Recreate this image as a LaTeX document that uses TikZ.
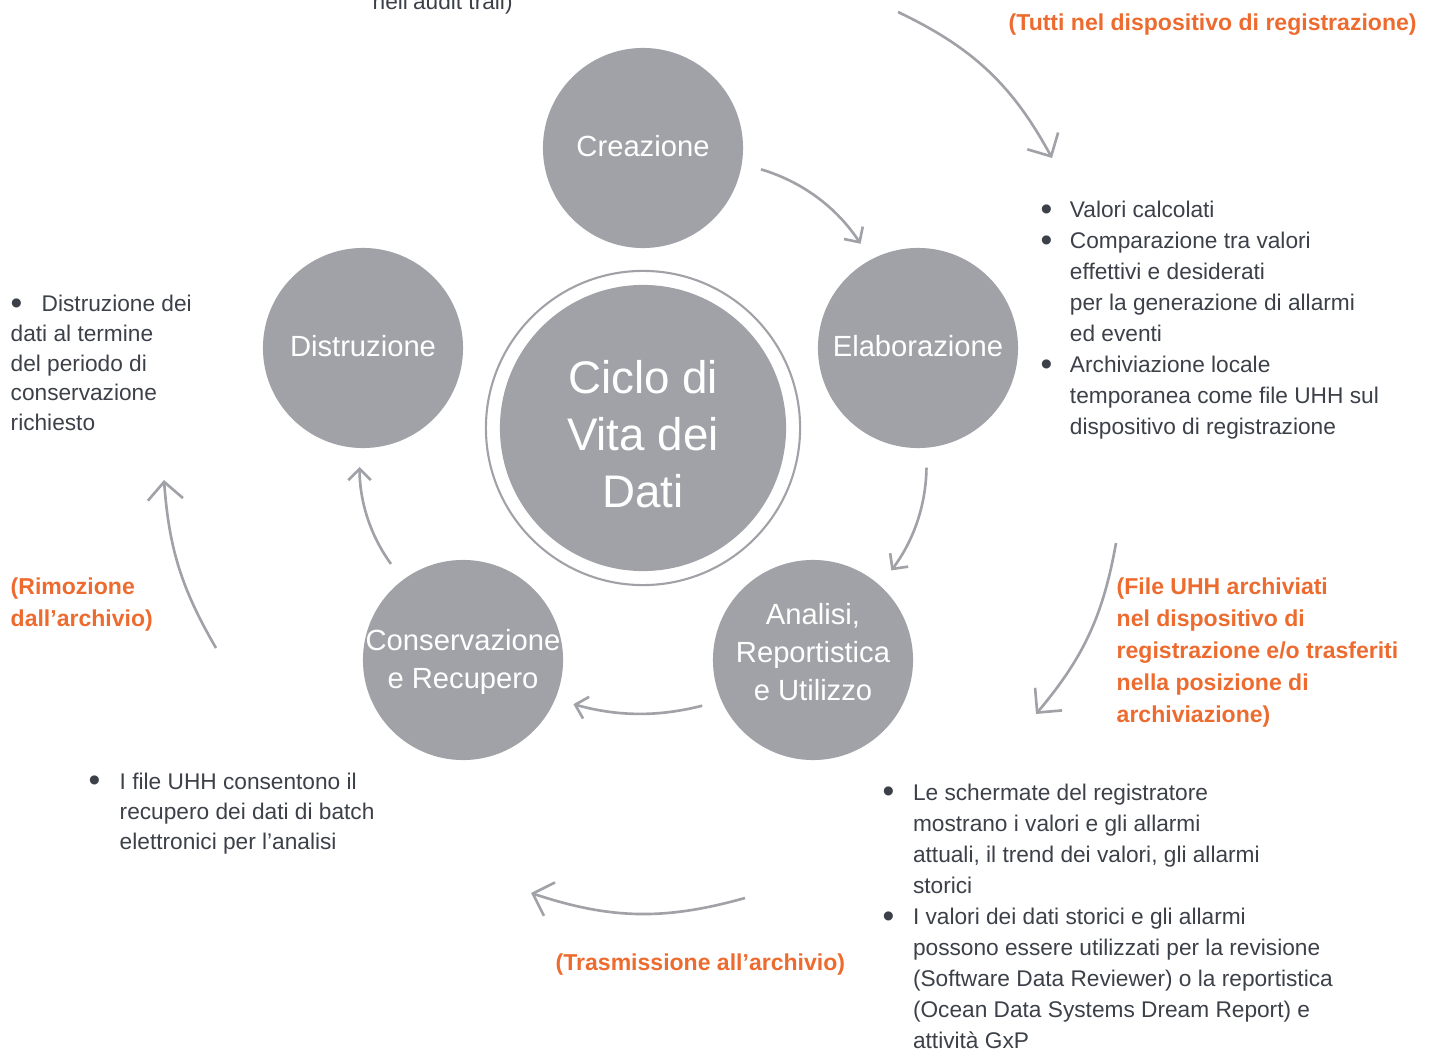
\documentclass[tikz,border=0pt]{standalone}
\usepackage{fontspec}
\setmainfont{Liberation Sans}
\usetikzlibrary{arrows.meta}
\definecolor{disc}{RGB}{161,162,167}
\definecolor{ink}{RGB}{60,64,72}
\definecolor{arancio}{RGB}{237,107,47}
\newcommand{\punto}{\raisebox{-0.75pt}{\fontsize{9.5}{9.5}\selectfont\textbullet}}
\tikzset{
fase/.style={circle,fill=disc,minimum size=2cm,inner sep=0pt,outer sep=0pt},
fasetesto/.style={inner sep=0pt,text=white,align=center,font=\fontsize{8.3}{10.8}\selectfont},
freccia/.style={draw=disc,line width=0.75pt,shorten <=0.2cm,shorten >=0.19cm,-{Straight Barb[length=3.2pt,width=6.4pt]}},
frecciona/.style={draw=disc,line width=0.75pt,-{Straight Barb[length=5pt,width=10pt]}},
testo/.style={anchor=base west,inner sep=0pt,text=ink,font=\fontsize{6.45}{8.6}\selectfont},
nota/.style={anchor=base west,inner sep=0pt,text=arancio,font=\bfseries\fontsize{6.55}{9.1}\selectfont}
}
\begin{document}
\begin{tikzpicture}[x=0.01cm,y=0.01cm]
\useasboundingbox (0,0) rectangle (1439,-1052);

\node[fase] (crea) at (643,-148) {};
\node[fase] (elab) at (918,-348) {};
\node[fase] (anal) at (813,-660) {};
\node[fase] (cons) at (463,-660) {};
\node[fase] (dist) at (363,-348) {};
\node[circle,fill=disc,minimum size=2.86cm,inner sep=0pt] (ciclo) at (643,-428) {};
\draw[disc,line width=0.6pt] (ciclo.center) circle (1.57cm);

\node[fasetesto] (creat) at ([yshift=0.02cm]crea) {Creazione};
\node[fasetesto] (elabt) at ([yshift=0.02cm]elab) {Elaborazione};
\node[fasetesto] (analt) at ([yshift=0.08cm]anal) {Analisi,\\Reportistica\\e Utilizzo};
\node[fasetesto] (const) at ([yshift=-0.02cm]cons) {Conservazione\\e Recupero};
\node[fasetesto] (distt) at ([yshift=0.02cm]dist) {Distruzione};
\node[fasetesto,font=\fontsize{13}{16.2}\selectfont] (ciclot) at (643,-434) {Ciclo di\\Vita dei\\Dati};

\draw[freccia] (crea.-9) to[bend left=20] (elab.118);
\draw[freccia] (elab.-85) to[bend left=18] (anal.48);
\draw[freccia] (anal.204) to[bend left=15] (cons.-23);
\draw[freccia] (cons.127) to[bend left=18] (dist.-92);

\coordinate (in1) at (898,-12); \coordinate (out1) at (1052,-158);
\coordinate (in2) at (1116,-543); \coordinate (out2) at (1036,-714);
\coordinate (in3) at (745,-898); \coordinate (out3) at (531,-893);
\coordinate (in4) at (216,-648); \coordinate (out4) at (164,-480);
\draw[frecciona] (in1) to[bend left=18] (out1);
\draw[frecciona] (in2) to[bend left=15] (out2);
\draw[frecciona] (in3) to[bend left=17] (out3);
\draw[frecciona] (in4) to[bend left=13] (out4);

\node[testo] (audit) at (372,-10) {nell’audit trail)};
\node[nota] (tutti) at (1008,-31) {(Tutti nel dispositivo di registrazione)};
\node[testo,font=\fontsize{6.45}{8.8}\selectfont] (elabnote) at (1040,-218) {\begin{tabular}[t]{@{}l@{\hspace{5pt}}l@{}}
\punto & Valori calcolati\\
\punto & Comparazione tra valori\\
 & effettivi e desiderati\\
 & per la generazione di allarmi\\
 & ed eventi\\
\punto & Archiviazione locale\\
 & temporanea come file UHH sul\\
 & dispositivo di registrazione
\end{tabular}};
\node[testo,font=\fontsize{6.45}{8.4}\selectfont] (distnote) at (10,-312) {\begin{tabular}[t]{@{}l@{}}
\punto\hspace{5.5pt}Distruzione dei\\
dati al termine\\
del periodo di\\
conservazione\\
richiesto
\end{tabular}};
\node[nota] (rimoz) at (10,-594) {\begin{tabular}[t]{@{}l@{}}
(Rimozione\\
dall’archivio)
\end{tabular}};
\node[nota] (archiv) at (1116,-594) {\begin{tabular}[t]{@{}l@{}}
(File UHH archiviati\\
nel dispositivo di\\
registrazione e/o trasferiti\\
nella posizione di\\
archiviazione)
\end{tabular}};
\node[testo] (consnote) at (88,-789) {\begin{tabular}[t]{@{}l@{\hspace{5.5pt}}l@{}}
\punto & I file UHH consentono il\\
 & recupero dei dati di batch\\
 & elettronici per l’analisi
\end{tabular}};
\node[testo,font=\fontsize{6.45}{8.85}\selectfont] (analnote) at (882,-800) {\begin{tabular}[t]{@{}l@{\hspace{5.3pt}}l@{}}
\punto & Le schermate del registratore\\
 & mostrano i valori e gli allarmi\\
 & attuali, il trend dei valori, gli allarmi\\
 & storici\\
\punto & I valori dei dati storici e gli allarmi\\
 & possono essere utilizzati per la revisione\\
 & (Software Data Reviewer) o la reportistica\\
 & (Ocean Data Systems Dream Report) e\\
 & attività GxP
\end{tabular}};
\node[nota] (trasm) at (555,-970) {(Trasmissione all’archivio)};
\end{tikzpicture}
\end{document}
